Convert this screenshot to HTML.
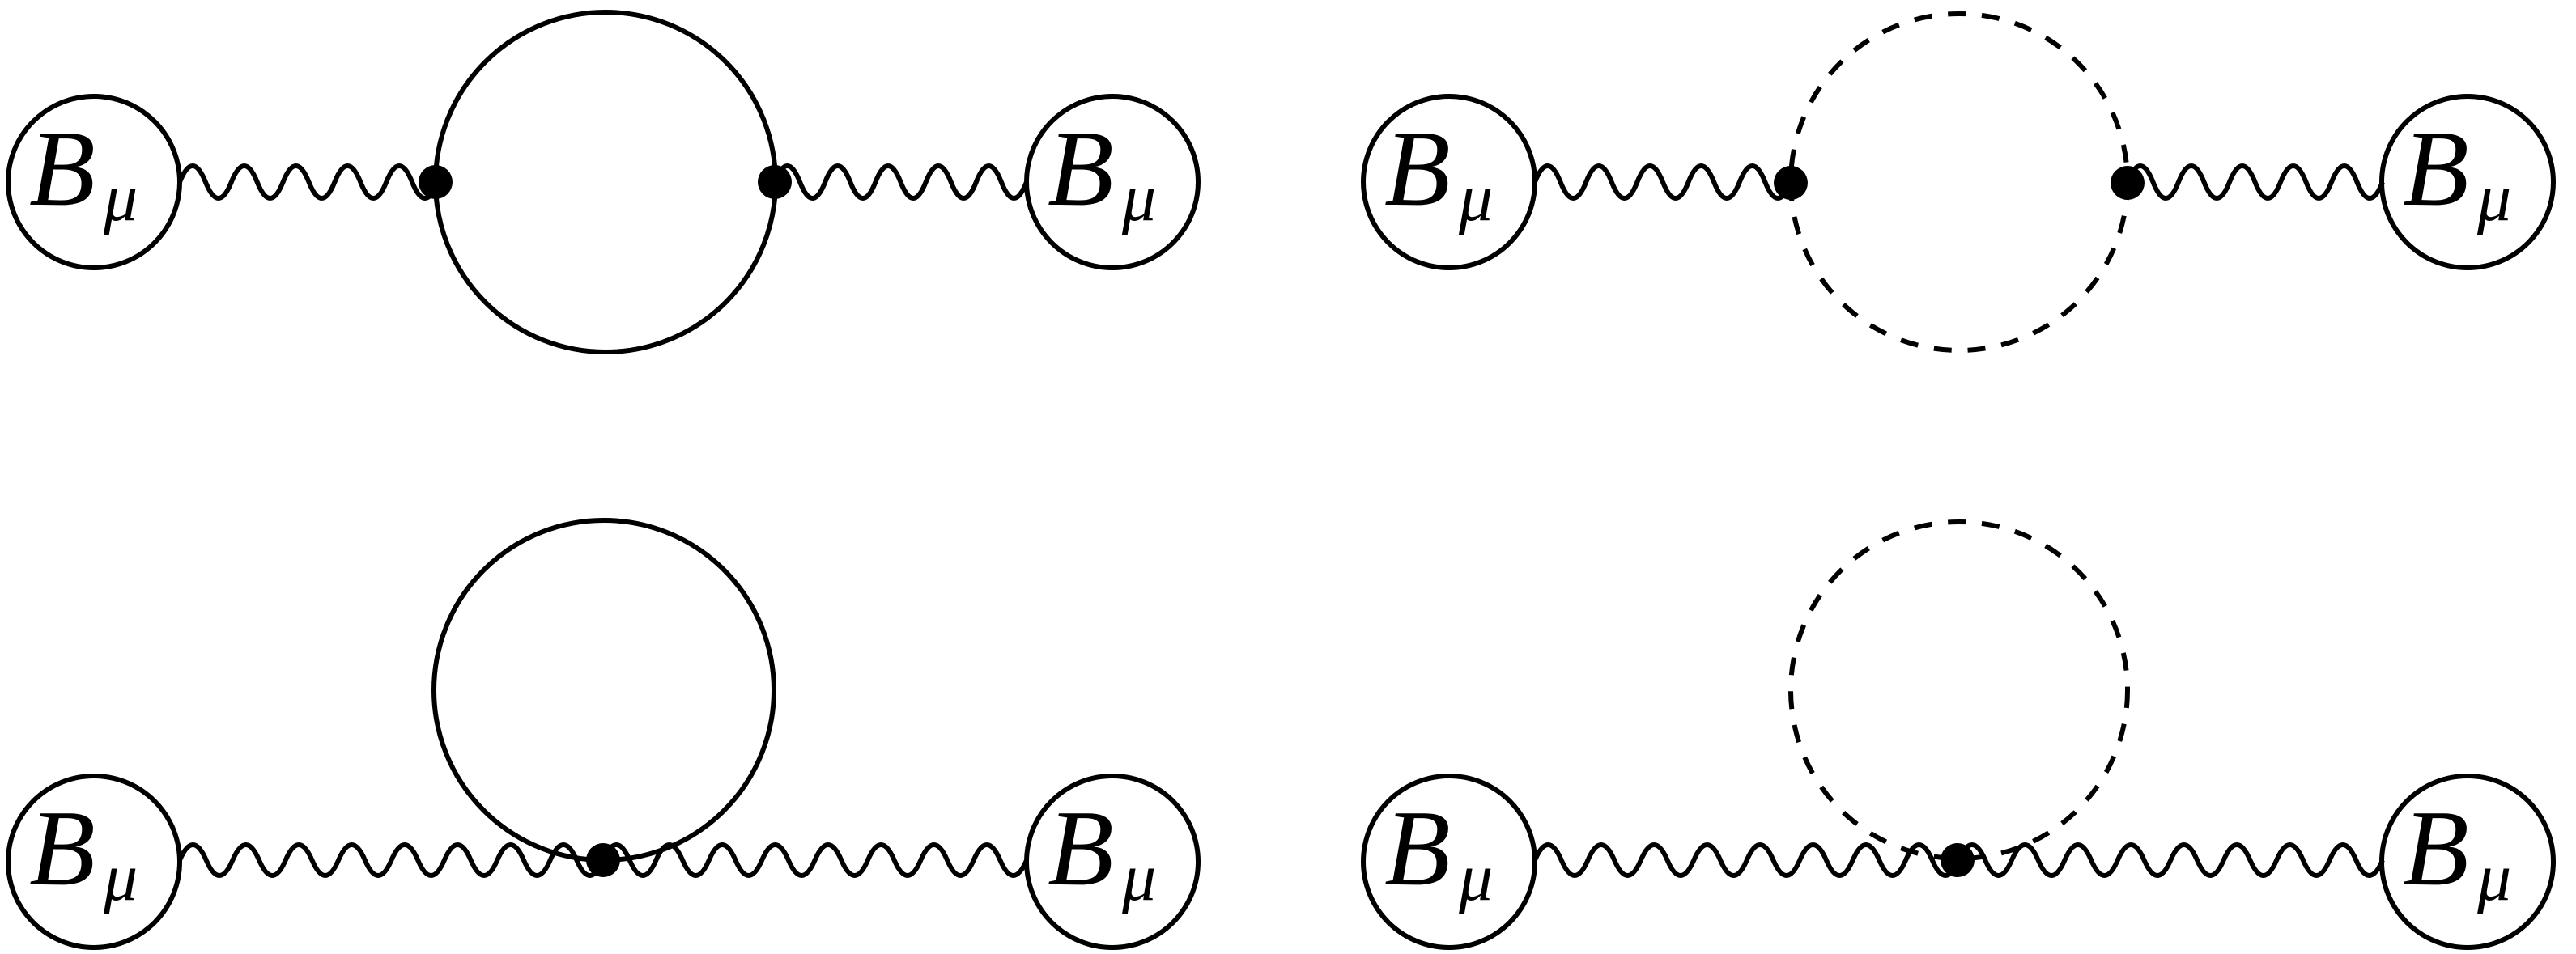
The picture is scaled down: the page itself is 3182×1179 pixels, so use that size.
<!DOCTYPE html>
<html><head><meta charset="utf-8"><style>
html,body{margin:0;padding:0;background:#fff;}
svg{display:block;}
text{font-family:"Liberation Serif",serif;font-style:italic;fill:#000;}
</style></head><body>
<svg width="3182" height="1179" viewBox="0 0 3182 1179" xmlns="http://www.w3.org/2000/svg">
<g fill="none" stroke="#000" stroke-width="6">
<circle cx="116" cy="225" r="106"/>
<circle cx="1374" cy="225" r="106"/>
<circle cx="748" cy="225" r="210"/>
<path d="M222,225 q15.95,-40 31.9,0 t31.9,0 t31.9,0 t31.9,0 t31.9,0 t31.9,0 t31.9,0 t31.9,0 t31.9,0 t31.9,0"/>
<path d="M957,225 q15.55,-40 31.1,0 t31.1,0 t31.1,0 t31.1,0 t31.1,0 t31.1,0 t31.1,0 t31.1,0 t31.1,0 t31.1,0"/>
<circle cx="1790" cy="225" r="106"/>
<circle cx="3048" cy="225" r="106"/>
<circle cx="2420" cy="225" r="208" stroke-dasharray="22 20"/>
<path d="M1896,225 q15.8,-40 31.6,0 t31.6,0 t31.6,0 t31.6,0 t31.6,0 t31.6,0 t31.6,0 t31.6,0 t31.6,0 t31.6,0"/>
<path d="M2628,225 q15.75,-40 31.5,0 t31.5,0 t31.5,0 t31.5,0 t31.5,0 t31.5,0 t31.5,0 t31.5,0 t31.5,0 t31.5,0"/>
<circle cx="116" cy="1065" r="106"/>
<circle cx="1374" cy="1065" r="106"/>
<circle cx="746" cy="853" r="210"/>
<path d="M222,1063 q16.34,-38 32.69,0 t32.69,0 t32.69,0 t32.69,0 t32.69,0 t32.69,0 t32.69,0 t32.69,0 t32.69,0 t32.69,0 t32.69,0 t32.69,0 t32.69,0 t32.69,0 t32.69,0 t32.69,0 t32.69,0 t32.69,0 t32.69,0 t32.69,0 t32.69,0 t32.69,0 t32.69,0 t32.69,0 t32.69,0 t32.69,0 t32.69,0 t32.69,0 t32.69,0 t32.69,0 t32.69,0 t32.69,0"/>
<circle cx="1790" cy="1065" r="106"/>
<circle cx="3048" cy="1065" r="106"/>
<circle cx="2420" cy="853" r="208" stroke-dasharray="22 20"/>
<path d="M1896,1063 q16.36,-38 32.72,0 t32.72,0 t32.72,0 t32.72,0 t32.72,0 t32.72,0 t32.72,0 t32.72,0 t32.72,0 t32.72,0 t32.72,0 t32.72,0 t32.72,0 t32.72,0 t32.72,0 t32.72,0 t32.72,0 t32.72,0 t32.72,0 t32.72,0 t32.72,0 t32.72,0 t32.72,0 t32.72,0 t32.72,0 t32.72,0 t32.72,0 t32.72,0 t32.72,0 t32.72,0 t32.72,0 t32.72,0"/>
</g>
<g fill="#000">
<circle cx="538" cy="225" r="21"/>
<circle cx="957" cy="225" r="21"/>
<circle cx="2212" cy="226" r="21"/>
<circle cx="2628" cy="226" r="21"/>
<circle cx="745" cy="1063" r="21"/>
<circle cx="2418" cy="1063" r="21"/>
</g>
<g>
<text x="36" y="253" font-size="134">B</text><text x="128" y="272" font-size="84">μ</text>
<text x="1294" y="253" font-size="134">B</text><text x="1386" y="272" font-size="84">μ</text>
<text x="1710" y="253" font-size="134">B</text><text x="1802" y="272" font-size="84">μ</text>
<text x="2968" y="253" font-size="134">B</text><text x="3060" y="272" font-size="84">μ</text>
<text x="36" y="1093" font-size="134">B</text><text x="128" y="1112" font-size="84">μ</text>
<text x="1294" y="1093" font-size="134">B</text><text x="1386" y="1112" font-size="84">μ</text>
<text x="1710" y="1093" font-size="134">B</text><text x="1802" y="1112" font-size="84">μ</text>
<text x="2968" y="1093" font-size="134">B</text><text x="3060" y="1112" font-size="84">μ</text>
</g>
</svg>
</body></html>
